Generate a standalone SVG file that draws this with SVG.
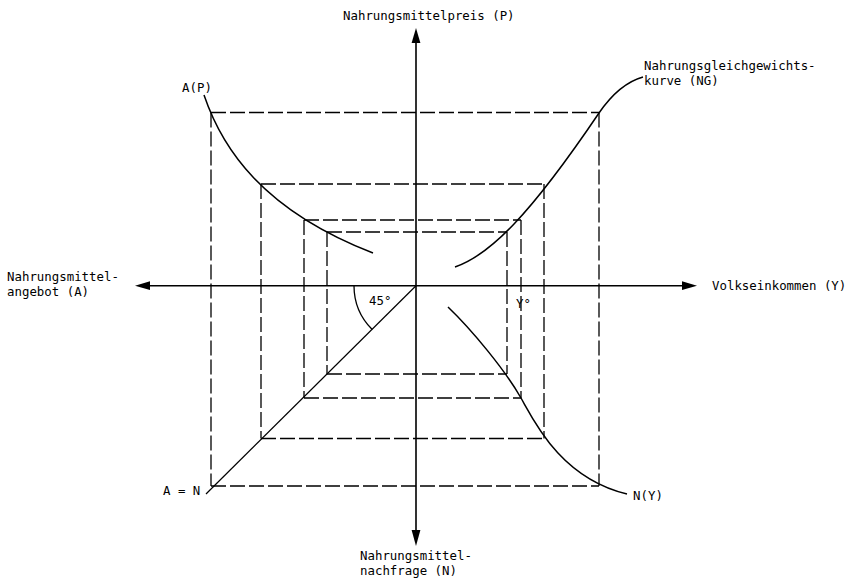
<svg xmlns="http://www.w3.org/2000/svg" width="853" height="578" viewBox="0 0 853 578">
<style>
text{font-family:"DejaVu Sans Mono","Liberation Mono",monospace;font-size:12.4px;fill:#000}
.ax{stroke:#000;stroke-width:1.6;fill:none}
.cv{stroke:#000;stroke-width:1.5;fill:none}
.ds{stroke:#000;stroke-width:1.3;fill:none;stroke-dasharray:15 4}
.ah{fill:#000}
</style>
<rect width="853" height="578" fill="#fff"/>
<g id="guides">
<path class="ds" d="M211,112.5H599 M261,184H544 M304,220H521 M327,232H507"/>
<path class="ds" d="M211,486H599 M261,438.5H544 M304,398H521 M327,374H507"/>
<path class="ds" d="M211,112.5V486 M261,184V438.5 M304,220V398 M327,232V374"/>
<path class="ds" d="M599,112.5V486 M544,184V438.5 M521,220V398 M507,232V374"/>
</g>
<g id="axes">
<path class="ax" d="M146,285.7H684 M416,40V532"/>
<path class="ah" d="M135,285.7L150,281.3L150,290.1Z"/>
<path class="ah" d="M697,285.7L682,281.3L682,290.1Z"/>
<path class="ah" d="M416,28L411.6,43L420.4,43Z"/>
<path class="ah" d="M416,546L411.6,530L420.4,530Z"/>
</g>
<g id="curves">
<path id="AP" class="cv" d="M204,95C222,148 262,210 373,253"/>
<path id="NG" class="cv" d="M455,267C490,255 530,215 599,113C610,97 625,82 643,77"/>
<path id="NY" class="cv" d="M448,307C472,330 505,370 521,398C533,419 560,478 627,494"/>
<path id="diag" class="cv" d="M416,285.7L206,494" style="stroke-width:1.2"/>
<path id="arc" class="cv" d="M354,285.7A62,62 0 0 0 372.2,329.5" style="stroke-width:1.3"/>
</g>
<g id="labels">
<text x="343" y="20">Nahrungsmittelpreis (P)</text>
<text x="182" y="92">A(P)</text>
<text x="644" y="70">Nahrungsgleichgewichts-</text>
<text x="644" y="85">kurve (NG)</text>
<text x="7" y="281">Nahrungsmittel-</text>
<text x="7" y="296">angebot (A)</text>
<text x="712" y="290">Volkseinkommen (Y)</text>
<text x="369" y="305">45°</text>
<text x="516" y="308">Y°</text>
<text x="163" y="495">A = N</text>
<text x="633" y="500">N(Y)</text>
<text x="360" y="560">Nahrungsmittel-</text>
<text x="360" y="575">nachfrage (N)</text>
</g>
</svg>
